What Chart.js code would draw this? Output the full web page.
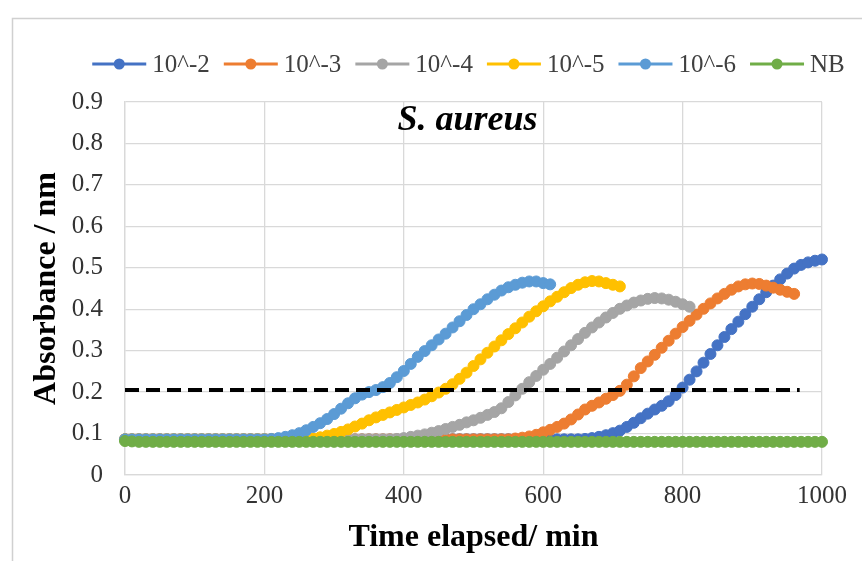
<!DOCTYPE html>
<html>
<head>
<meta charset="utf-8">
<script src="https://cdn.jsdelivr.net/npm/chart.js@4.4.1/dist/chart.umd.min.js"></script>
<style>
html,body{margin:0;padding:0;background:#fff;}
#c{display:block;}
</style>
</head>
<body>
<canvas id="c" width="862" height="561"></canvas>
<script>
// ---------- DATA ----------
const times = [
  0,10,20,30,40,50,60,70,80,90,
  100,110,120,130,140,150,160,170,180,190,
  200,210,220,230,240,250,260,270,280,290,
  300,310,320,330,340,350,360,370,380,390,
  400,410,420,430,440,450,460,470,480,490,
  500,510,520,530,540,550,560,570,580,590,
  600,610,620,630,640,650,660,670,680,690,
  700,710,720,730,740,750,760,770,780,790,
  800,810,820,830,840,850,860,870,880,890,
  900,910,920,930,940,950,960,970,980,990,
  1000
];
const seriesLabels = ['10^-2', '10^-3', '10^-4', '10^-5', '10^-6', 'NB'];

const dil1e2 = [
  0.086,0.085,0.085,0.085,0.085,0.085,0.085,0.085,0.085,0.085,
  0.085,0.085,0.085,0.085,0.085,0.085,0.085,0.085,0.085,0.085,
  0.085,0.085,0.085,0.085,0.085,0.085,0.085,0.085,0.085,0.085,
  0.085,0.085,0.085,0.085,0.085,0.085,0.085,0.085,0.085,0.085,
  0.086,0.086,0.086,0.086,0.086,0.086,0.086,0.086,0.086,0.086,
  0.086,0.086,0.086,0.086,0.086,0.086,0.086,0.086,0.086,0.086,
  0.086,0.086,0.086,0.086,0.086,0.086,0.087,0.089,0.092,0.096,
  0.101,0.107,0.116,0.126,0.137,0.148,0.158,0.167,0.178,0.193,
  0.211,0.230,0.250,0.271,0.292,0.313,0.333,0.352,0.370,0.388,
  0.406,0.424,0.441,0.457,0.472,0.486,0.498,0.507,0.513,0.517,
  0.520
];
const dil1e3 = [
  0.086,0.086,0.086,0.086,0.086,0.086,0.086,0.086,0.086,0.086,
  0.086,0.086,0.086,0.086,0.086,0.086,0.086,0.086,0.086,0.086,
  0.086,0.086,0.086,0.086,0.086,0.086,0.086,0.086,0.086,0.086,
  0.086,0.086,0.086,0.086,0.086,0.086,0.086,0.086,0.086,0.086,
  0.086,0.086,0.086,0.086,0.086,0.086,0.086,0.086,0.086,0.086,
  0.086,0.086,0.086,0.086,0.086,0.086,0.088,0.090,0.093,0.097,
  0.103,0.109,0.116,0.124,0.134,0.146,0.158,0.167,0.175,0.184,
  0.193,0.203,0.218,0.238,0.258,0.274,0.290,0.307,0.324,0.341,
  0.357,0.372,0.387,0.401,0.414,0.426,0.437,0.447,0.455,0.460,
  0.462,0.461,0.457,0.452,0.447,0.442,0.437
];
const dil1e4 = [
  0.086,0.086,0.086,0.086,0.086,0.086,0.086,0.086,0.086,0.086,
  0.086,0.086,0.086,0.086,0.086,0.086,0.086,0.086,0.086,0.086,
  0.086,0.086,0.086,0.086,0.086,0.086,0.086,0.086,0.086,0.086,
  0.086,0.086,0.086,0.086,0.086,0.086,0.086,0.086,0.086,0.087,
  0.089,0.092,0.095,0.098,0.102,0.106,0.111,0.116,0.121,0.127,
  0.132,0.138,0.145,0.152,0.161,0.176,0.192,0.208,0.224,0.239,
  0.254,0.268,0.283,0.298,0.313,0.328,0.343,0.356,0.368,0.380,
  0.391,0.401,0.409,0.416,0.421,0.425,0.427,0.426,0.423,0.418,
  0.412,0.406
];
const dil1e5 = [
  0.086,0.086,0.086,0.086,0.086,0.086,0.086,0.086,0.086,0.086,
  0.086,0.086,0.086,0.086,0.086,0.086,0.086,0.086,0.086,0.086,
  0.086,0.086,0.086,0.086,0.086,0.086,0.086,0.088,0.091,0.095,
  0.099,0.104,0.110,0.117,0.124,0.132,0.139,0.145,0.151,0.157,
  0.163,0.169,0.175,0.182,0.190,0.199,0.208,0.219,0.232,0.247,
  0.263,0.279,0.295,0.310,0.325,0.340,0.354,0.368,0.382,0.395,
  0.407,0.419,0.430,0.441,0.451,0.459,0.465,0.468,0.467,0.463,
  0.459,0.455
];
const dil1e6 = [
  0.086,0.086,0.086,0.086,0.086,0.086,0.086,0.086,0.086,0.086,
  0.086,0.086,0.086,0.086,0.086,0.086,0.086,0.086,0.086,0.086,
  0.086,0.087,0.089,0.092,0.096,0.101,0.108,0.116,0.125,0.135,
  0.147,0.160,0.173,0.185,0.194,0.200,0.205,0.212,0.222,0.236,
  0.251,0.268,0.285,0.299,0.313,0.327,0.341,0.356,0.371,0.386,
  0.400,0.412,0.424,0.435,0.445,0.453,0.459,0.464,0.467,0.467,
  0.463,0.460
];
const brothNB = [
  0.082,0.081,0.080,0.080,0.080,0.080,0.080,0.080,0.080,0.080,
  0.080,0.080,0.080,0.080,0.080,0.080,0.080,0.080,0.080,0.080,
  0.080,0.080,0.080,0.080,0.080,0.080,0.080,0.080,0.080,0.080,
  0.080,0.080,0.080,0.080,0.080,0.080,0.080,0.080,0.080,0.080,
  0.080,0.080,0.080,0.080,0.080,0.080,0.080,0.080,0.080,0.080,
  0.080,0.080,0.080,0.080,0.080,0.080,0.080,0.080,0.080,0.080,
  0.080,0.080,0.080,0.080,0.080,0.080,0.080,0.080,0.080,0.080,
  0.080,0.080,0.080,0.080,0.080,0.080,0.080,0.080,0.080,0.080,
  0.080,0.080,0.080,0.080,0.080,0.080,0.080,0.080,0.080,0.080,
  0.080,0.080,0.080,0.080,0.080,0.080,0.080,0.080,0.080,0.080,
  0.080
];
const thresholdX = [0, 968];
const thresholdY = [0.205, 0.205];

const xTickValues = [0, 200, 400, 600, 800, 1000];
const yTickValues = [0, 0.1, 0.2, 0.3, 0.4, 0.5, 0.6, 0.7, 0.8, 0.9];

const chartTitle = 'S. aureus';
const xAxisTitle = 'Time elapsed/ min';
const yAxisTitle = 'Absorbance / nm';

// ---------- STYLE ----------
const seriesColors = ['#4472C4', '#ED7D31', '#A5A5A5', '#FFC000', '#5B9BD5', '#70AD47'];
const FONT = '"Liberation Serif", "Times New Roman", serif';
const GRID = '#d9d9d9';

const seriesValues = [dil1e2, dil1e3, dil1e4, dil1e5, dil1e6, brothNB];
const toPoints = (xs, ys) => ys.map((y, i) => ({x: xs[i], y: y}));

const datasets = seriesValues.map((vals, i) => ({
  label: seriesLabels[i],
  data: toPoints(times, vals),
  borderColor: seriesColors[i],
  backgroundColor: seriesColors[i],
  pointBackgroundColor: seriesColors[i],
  pointBorderColor: seriesColors[i],
  borderWidth: 3.5,
  pointRadius: 5.5,
  pointBorderWidth: 1,
  tension: 0,
  clip: false,
  order: seriesValues.length - i,
  inLegend: true
}));
datasets.push({
  label: 'threshold',
  data: toPoints(thresholdX, thresholdY),
  borderColor: '#000000',
  borderWidth: 4,
  borderDash: [14, 7],
  borderCapStyle: 'butt',
  pointRadius: 0,
  clip: false,
  order: 0,
  inLegend: false
});

// frame of the chart area (Excel-style outer border)
const framePlugin = {
  id: 'frame',
  beforeDraw(chart) {
    const ctx = chart.ctx;
    ctx.save();
    ctx.fillStyle = '#ffffff';
    ctx.fillRect(0, 0, chart.width, chart.height);
    ctx.strokeStyle = '#d0d0d0';
    ctx.lineWidth = 1.5;
    ctx.beginPath();
    ctx.moveTo(12.5, chart.height + 5);
    ctx.lineTo(12.5, 18.5);
    ctx.lineTo(chart.width + 5, 18.5);
    ctx.stroke();
    ctx.restore();
  }
};

// legend: line + marker, then label
const legendPlugin = {
  id: 'excelLegend',
  afterDraw(chart) {
    const ctx = chart.ctx;
    const items = chart.data.datasets.filter(d => d.inLegend);
    const fs = 25;
    const lineW = 54, gapText = 6, gapItem = 14;
    ctx.save();
    ctx.font = fs + 'px ' + FONT;
    const widths = items.map(d => lineW + gapText + ctx.measureText(d.label).width);
    const total = widths.reduce((a, b) => a + b, 0) + gapItem * (items.length - 1);
    const ca = chart.chartArea;
    let x = (ca.left + ca.right) / 2 - 5 - total / 2;
    const y = 64;
    items.forEach((d, i) => {
      ctx.strokeStyle = d.borderColor;
      ctx.lineWidth = 3;
      ctx.beginPath();
      ctx.moveTo(x, y);
      ctx.lineTo(x + lineW, y);
      ctx.stroke();
      ctx.fillStyle = d.borderColor;
      ctx.beginPath();
      ctx.arc(x + lineW / 2, y, 5.5, 0, Math.PI * 2);
      ctx.fill();
      ctx.fillStyle = '#404040';
      ctx.textAlign = 'left';
      ctx.textBaseline = 'middle';
      ctx.fillText(d.label, x + lineW + gapText, y + 1);
      x += widths[i] + gapItem;
    });
    ctx.restore();
  }
};

// in-plot title
const innerTitlePlugin = {
  id: 'innerTitle',
  beforeDatasetsDraw(chart) {
    const ctx = chart.ctx;
    const ca = chart.chartArea;
    ctx.save();
    ctx.font = 'italic bold 36px ' + FONT;
    ctx.fillStyle = '#000';
    ctx.textAlign = 'center';
    ctx.textBaseline = 'alphabetic';
    ctx.fillText(chartTitle, (ca.left + ca.right) / 2 - 6, ca.top + 28);
    ctx.restore();
  }
};

new Chart(document.getElementById('c'), {
  type: 'line',
  data: { datasets: datasets },
  options: {
    responsive: false,
    animation: false,
    devicePixelRatio: 1,
    layout: { padding: { top: 102, left: 0, right: 40, bottom: 0 } },
    plugins: {
      legend: { display: false },
      tooltip: { enabled: false },
      title: { display: false }
    },
    scales: {
      x: {
        type: 'linear',
        min: 0, max: 1000,
        afterBuildTicks: s => { s.ticks = xTickValues.map(v => ({ value: v })); },
        afterFit: s => { s.height = 86; },
        grid: { color: GRID, lineWidth: 1.3, drawTicks: false },
        border: { color: GRID, width: 1.3 },
        ticks: {
          font: { family: FONT, size: 25 },
          color: '#333333',
          padding: 6,
          maxRotation: 0,
          autoSkip: false,
          callback: v => String(v)
        },
        title: {
          display: true,
          text: xAxisTitle,
          color: '#000',
          font: { family: FONT, size: 32, weight: 'bold' },
          padding: { top: 0, bottom: 4 }
        }
      },
      y: {
        type: 'linear',
        min: 0, max: 0.9,
        afterBuildTicks: s => { s.ticks = yTickValues.map(v => ({ value: v })); },
        afterFit: s => { s.width = 125; },
        grid: { color: GRID, lineWidth: 1.3, drawTicks: false },
        border: { color: GRID, width: 1.3 },
        ticks: {
          font: { family: FONT, size: 25 },
          color: '#333333',
          padding: 22,
          autoSkip: false,
          callback: v => String(Math.round(v * 10) / 10)
        },
        title: {
          display: true,
          text: yAxisTitle,
          color: '#000',
          font: { family: FONT, size: 32, weight: 'bold' },
          padding: { top: 28, bottom: 0 }
        }
      }
    }
  },
  plugins: [framePlugin, legendPlugin, innerTitlePlugin]
});
</script>
</body>
</html>
